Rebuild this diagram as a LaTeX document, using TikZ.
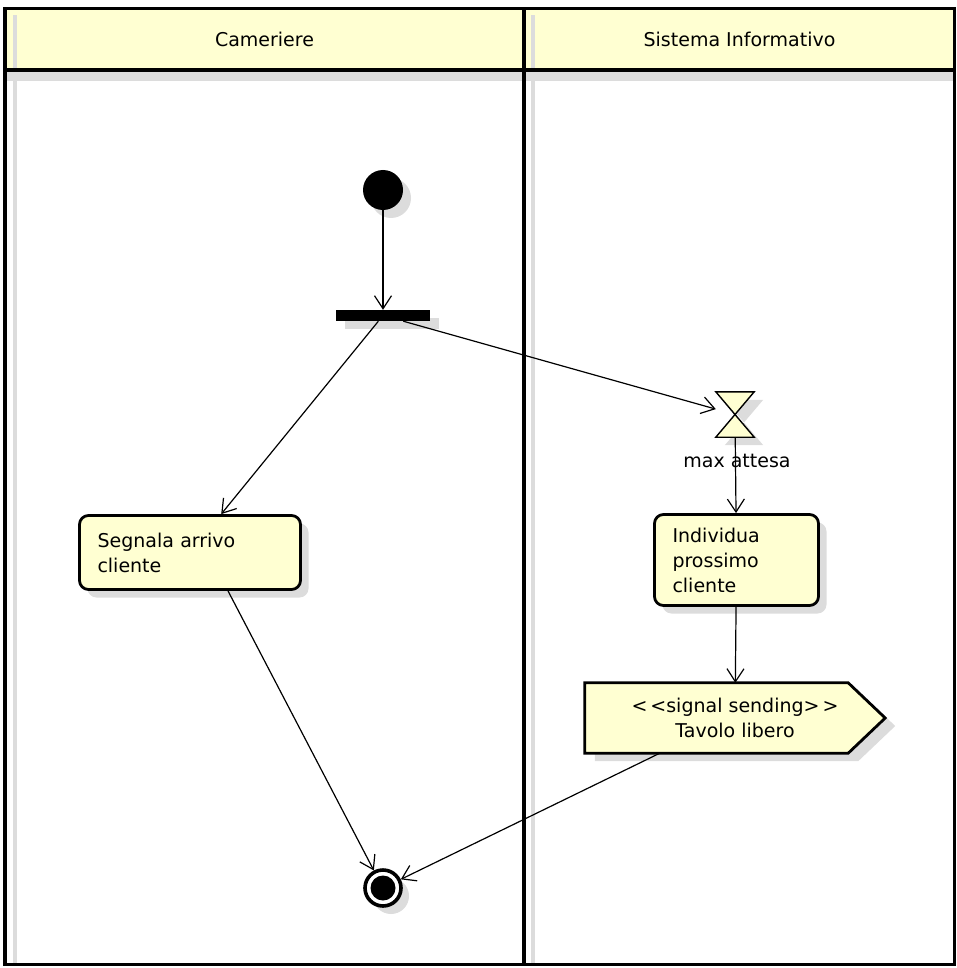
\documentclass[tikz,border=0pt]{standalone}
\usepackage{fontspec}
\setmainfont{DejaVu Sans}
\usetikzlibrary{arrows.meta,calc,shadows}
\pgfdeclarelayer{background}
\pgfsetlayers{background,main}
\definecolor{uyel}{HTML}{FFFFD2}
\definecolor{ushad}{HTML}{DCDCDC}
\begin{document}
\begin{tikzpicture}[x=1pt,y=-1pt,
  txt/.style={font=\fontsize{19}{25}\selectfont},
  hdr/.style={txt, fill=uyel, inner sep=0pt},
  lane/.style={line width=3.8pt},
  shad/.style={drop shadow={shadow xshift=8pt, shadow yshift=-8pt, fill=ushad, opacity=1}},
  act/.style={txt, draw, line width=2.8pt, fill=uyel, rounded corners=9pt, align=left, inner xsep=18pt, inner ysep=0pt, shad},
  flow/.style={-{Straight Barb[length=13pt,width=17pt]}, line width=1.2pt}]
\useasboundingbox (0,0) rectangle (956,968);
% lane headers
\node[hdr, minimum width=519, minimum height=61.5] (h1) at (264.5,39.25) {Cameriere};
\node[hdr, minimum width=431, minimum height=61.5] (h2) at (739.5,39.25) {Sistema Informativo};
% lane shadows
\fill[ushad] (7,72) rectangle (954,81);
\fill[ushad] (13,15) rectangle (17,963);
\fill[ushad] (531,15) rectangle (535,963);
% lane frame
\draw[lane] (5,8.5) rectangle (954.5,964.5);
\draw[lane] (5,70) -- (954.5,70);
\draw[lane] (524,8.5) -- (524,964.5);
% initial node and fork bar
\node[circle, fill=black, minimum size=40pt, inner sep=0pt, shad] (init) at (383,190) {};
\node[rectangle, fill=black, minimum width=94pt, minimum height=11pt, inner sep=0pt,
      drop shadow={shadow xshift=9pt, shadow yshift=-8pt, fill=ushad, opacity=1}] (bar) at (383,315.5) {};
% actions
\node[act, text width=185pt, minimum height=74pt] (seg) at (190,552.5) {Segnala arrivo\\cliente};
\node[act, text width=128pt, minimum height=91pt] (ind) at (736.5,560) {Individua\\prossimo\\cliente};
% hourglass (time event)
\node[minimum width=38pt, minimum height=45pt, inner sep=0pt] (hg) at (735,414.5) {};
\fill[ushad] ($(hg.north west)+(9,8)$) -- ($(hg.north east)+(9,8)$) -- ($(hg.south west)+(9,8)$) -- ($(hg.south east)+(9,8)$) -- cycle;
\draw[fill=uyel, line width=1.4pt] (hg.north west) -- (hg.north east) -- (hg.south west) -- (hg.south east) -- cycle;
\node[txt, inner sep=0pt] (ma) at (737,461) {max attesa};
% signal sending
\node[txt, minimum width=300pt, minimum height=70pt, inner sep=0pt, align=center] (sig) at (735,718) {{<}\kern3pt{<}signal sending{>}\kern3pt{>}\\Tavolo libero};
\begin{pgfonlayer}{background}
\fill[ushad] ($(sig.north west)+(10,8)$) -- ($(sig.north east)+(-27,8)$) -- ($(sig.east)+(10,8)$) -- ($(sig.south east)+(-27,8)$) -- ($(sig.south west)+(10,8)$) -- cycle;
\end{pgfonlayer}
\begin{pgfonlayer}{background}
\draw[fill=uyel, line width=2.8pt] (sig.north west) -- ($(sig.north east)+(-37,0)$) -- (sig.east) -- ($(sig.south east)+(-37,0)$) -- (sig.south west) -- cycle;
\end{pgfonlayer}
% final node
\node[circle, draw, line width=3.6pt, fill=white, minimum size=36pt, inner sep=0pt, shad] (fin) at (383,888) {};
\fill (fin.center) circle (12.5);
% flows
\draw[flow] (init) -- (bar);
\draw[flow] (bar) -- (seg);
\draw[flow] (bar) -- (hg);
\draw[flow] (hg) -- (ind);
\draw[flow] (ind) -- (sig);
\draw[flow] ($(seg.south)+(38,0)$) -- (fin);
\draw[flow] ($(sig.south west)+(75,0)$) -- (fin);
\end{tikzpicture}
\end{document}
